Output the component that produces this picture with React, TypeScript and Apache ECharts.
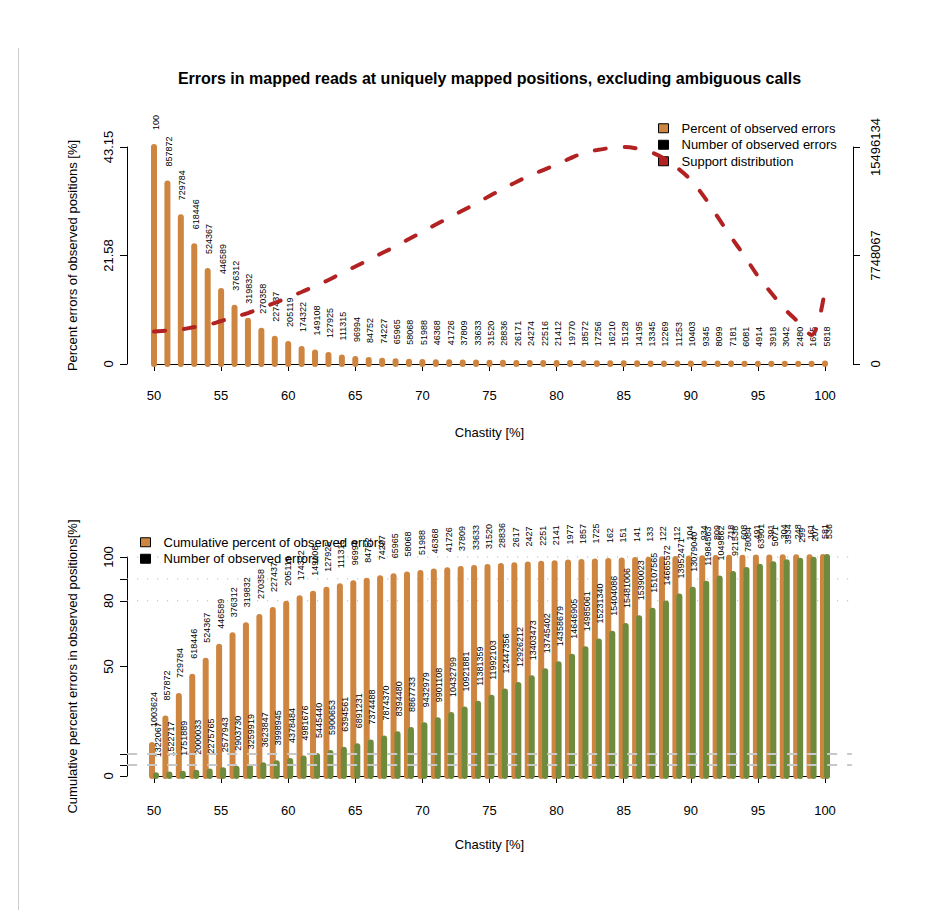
import React, { useEffect, useRef } from "react";
import * as echarts from "echarts";

// ---------- data ----------
const chastity = [
  50, 51, 52, 53, 54, 55, 56, 57, 58, 59, 60, 61, 62, 63, 64, 65, 66, 67, 68, 69, 70,
  71, 72, 73, 74, 75, 76, 77, 78, 79, 80, 81, 82, 83, 84, 85, 86, 87, 88, 89, 90,
  91, 92, 93, 94, 95, 96, 97, 98, 99, 100,
];

// number of observed errors per chastity (labels above bars)
const errorCounts = [
  1003624, 857872, 729784, 618446, 524367, 446589, 376312, 319832, 270358, 227437,
  205119, 174322, 149108, 127925, 111315, 96994, 84752, 74227, 65965, 58068,
  51988, 46368, 41726, 37809, 33633, 31520, 28836, 26171, 24274, 22516,
  21412, 19770, 18572, 17256, 16210, 15128, 14195, 13345, 12269, 11253,
  10403, 9345, 8099, 7181, 6081, 4914, 3918, 3042, 2480, 1615, 5818,
];

// percent errors of observed positions (bar heights, top panel)
const percentErrors = [
  43.15, 35.9, 29.2, 23.4, 18.5, 14.5, 11.2, 8.6, 6.6, 5.0,
  4.0, 3.0, 2.3, 1.8, 1.3, 1.0, 0.8, 0.65, 0.55, 0.45,
  0.4, 0.36, 0.33, 0.3, 0.28, 0.26, 0.24, 0.22, 0.21, 0.2,
  0.19, 0.18, 0.17, 0.16, 0.15, 0.14, 0.13, 0.12, 0.12, 0.11,
  0.1, 0.1, 0.09, 0.08, 0.07, 0.06, 0.05, 0.05, 0.04, 0.03, 0.1,
];

// number of observed positions (support) per chastity
const supportCounts = [
  1322067, 1522717, 1751889, 2000033, 2275765, 2577943, 2903730, 3259919, 3623847, 3998945,
  4378484, 4981676, 5445440, 5900653, 6394561, 6891231, 7374488, 7874370, 8394480, 8867733,
  9432979, 9901108, 10432799, 10921881, 11381359, 11992103, 12447356, 12926212, 13403473, 13745402,
  14358679, 14646905, 14985061, 15231340, 15404086, 15481006, 15390023, 15107565, 14665572, 13952471,
  13079040, 11984563, 10498620, 9215383, 7808450, 6390120, 5071842, 3934716, 2998105, 2073590, 5362417,
];

// smoothed support distribution curve (top panel, right axis)
const supportCurve = [
  2320000, 2390000, 2460000, 2640000, 2790000, 3070000, 3360000, 3640000, 4000000, 4360000,
  4750000, 5140000, 5570000, 6000000, 6500000, 6960000, 7430000, 7930000, 8390000, 8930000,
  9430000, 9960000, 10460000, 10960000, 11460000, 12000000, 12500000, 13000000, 13460000, 13850000,
  14250000, 14680000, 15070000, 15280000, 15420000, 15496134, 15390000, 15140000, 14680000, 14000000,
  13140000, 11930000, 10500000, 9070000, 7710000, 6280000, 5070000, 3930000, 3000000, 2070000, 5360000,
];

const topLeftTickValues = [0, 21.575, 43.15];
const topLeftTickLabels = ["0", "21.58", "43.15"];
const topRightTickLabels = ["0", "7748067", "15496134"];
const bottomTickValues = [0, 5, 10, 50, 80, 90, 100];
const bottomLabelValues = [0, 50, 80, 100];
const dottedLevels = [80, 90, 100];
const dashedLevels = [5, 10];

// ---------- style ----------
const FONT = "'Liberation Sans', Arial, Helvetica, sans-serif";
const ORANGE = "#CD853F";
const GREEN = "#6E8B3D";
const RED = "#B22222";

function cumulativePercent(arr: number[]) {
  const total = arr.reduce((a, b) => a + b, 0);
  let run = 0;
  return arr.map((v) => {
    run += v;
    return (run / total) * 100;
  });
}
const cumErrPct = cumulativePercent(errorCounts);
const cumSupPct = cumulativePercent(supportCounts);

function barGroup(
  api: any,
  x: number,
  v: number,
  dx: number,
  color: string,
  label: string,
  labelGap: number,
  clipAbove: number,
  clipValue: number
) {
  const p0 = api.coord([x, 0]);
  const p1 = api.coord([x, v]);
  const top = api.coord([x, clipValue]);
  const clipY = top[1] - clipAbove;
  const px = p0[0] + dx;
  const bottom = p1[1] - labelGap;
  const avail = bottom - clipY;
  const children: any[] = [
    {
      type: "line",
      shape: { x1: px, y1: p0[1], x2: px, y2: p1[1] },
      style: { stroke: color, lineWidth: 6, lineCap: "round" },
    },
  ];
  if (avail > 4) {
    children.push({
      type: "text",
      x: px + 1.5,
      y: bottom,
      rotation: Math.PI / 2,
      style: {
        text: label,
        font: `9px ${FONT}`,
        fill: "#000",
        align: "left",
        verticalAlign: "middle",
        textAlign: "left",
        textVerticalAlign: "middle",
        width: avail,
        overflow: "truncate",
        ellipsis: "",
      },
    });
  }
  return { type: "group", children };
}

function hLine(api: any, v: number, color: string, width: number, dash: number[]) {
  const a = api.coord([48, v]);
  const b = api.coord([102, v]);
  return {
    type: "line",
    shape: { x1: a[0], y1: a[1], x2: b[0], y2: b[1] },
    style: { stroke: color, lineWidth: width, lineDash: dash },
  };
}

const axisCommon = {
  axisLine: { show: true, lineStyle: { color: "#000", width: 1 } },
  axisTick: { show: true, length: 7, lineStyle: { color: "#000", width: 1 } },
  splitLine: { show: false },
  nameTextStyle: { color: "#000", fontSize: 13, fontFamily: FONT },
};

const legendText = { fontSize: 13, color: "#000", fontFamily: FONT, lineHeight: 16.5, padding: [0, 0, 0, 8] };

export default function App() {
  const ref = useRef<HTMLDivElement>(null);
  useEffect(() => {
    if (!ref.current) return;
    const chart = echarts.init(ref.current, undefined, { renderer: "svg" });
    const option: any = {
      animation: false,
      backgroundColor: "#fff",
      textStyle: { fontFamily: FONT },
      title: {
        text: "Errors in mapped reads at uniquely mapped positions, excluding ambiguous calls",
        left: 489.5,
        textAlign: "center",
        top: 70,
        padding: 0,
        textStyle: { fontSize: 16, fontWeight: "bold", color: "#000", fontFamily: FONT },
      },
      graphic: [
        {
          type: "line",
          silent: true,
          shape: { x1: 18.5, y1: 48, x2: 18.5, y2: 910 },
          style: { stroke: "#cfcfcf", lineWidth: 1 },
        },
      ],
      legend: [
        {
          orient: "vertical",
          left: 658,
          top: 120,
          padding: 0,
          itemWidth: 10,
          itemHeight: 9,
          itemGap: 0,
          selectedMode: false,
          textStyle: legendText,
          data: [
            { name: "Percent of observed errors", icon: "rect", itemStyle: { color: ORANGE, borderColor: "#000", borderWidth: 1 } },
            { name: "Number of observed errors", icon: "rect", itemStyle: { color: "#000", borderColor: "#000", borderWidth: 1 } },
            { name: "Support distribution", icon: "rect", itemStyle: { color: RED, borderColor: "#000", borderWidth: 1 }, lineStyle: { width: 0 } },
          ],
        },
        {
          orient: "vertical",
          left: 140,
          top: 534,
          padding: 0,
          itemWidth: 10,
          itemHeight: 9,
          itemGap: 0,
          selectedMode: false,
          textStyle: legendText,
          data: [
            { name: "Cumulative percent of observed errors", icon: "rect", itemStyle: { color: ORANGE, borderColor: "#000", borderWidth: 1 } },
            { name: "Number of observed errors", icon: "rect", itemStyle: { color: "#000", borderColor: "#000", borderWidth: 1 } },
          ],
        },
      ],
      grid: [
        { left: 154, top: 147, width: 671, height: 217, containLabel: false, outerBoundsMode: "none" },
        { left: 154, top: 557, width: 671, height: 219, containLabel: false, outerBoundsMode: "none" },
      ],
      xAxis: [
        {
          ...axisCommon,
          gridIndex: 0,
          type: "value",
          min: 50,
          max: 100,
          interval: 5,
          offset: 10,
          axisLabel: { margin: 15, fontSize: 13, color: "#000", fontFamily: FONT },
          name: "Chastity [%]",
          nameLocation: "middle",
          nameGap: 52,
        },
        {
          ...axisCommon,
          gridIndex: 1,
          type: "value",
          min: 50,
          max: 100,
          interval: 5,
          offset: 10,
          axisLabel: { margin: 18, fontSize: 13, color: "#000", fontFamily: FONT },
          name: "Chastity [%]",
          nameLocation: "middle",
          nameGap: 52,
        },
      ],
      yAxis: [
        {
          ...axisCommon,
          gridIndex: 0,
          type: "value",
          position: "left",
          min: 0,
          max: 43.15,
          interval: 21.575,
          offset: 27,
          axisLabel: {
            rotate: 90,
            margin: 12,
            fontSize: 13,
            color: "#000",
            fontFamily: FONT,
            formatter: (v: number) => {
              let best = 0;
              topLeftTickValues.forEach((t, i) => {
                if (Math.abs(t - v) < Math.abs(topLeftTickValues[best] - v)) best = i;
              });
              return topLeftTickLabels[best];
            },
          },
          name: "Percent errors of observed positions [%]",
          nameLocation: "middle",
          nameGap: 48,
        },
        {
          ...axisCommon,
          gridIndex: 0,
          type: "value",
          position: "right",
          min: 0,
          max: 15496134,
          interval: 7748067,
          offset: 28,
          axisLabel: {
            rotate: 90,
            margin: 16,
            fontSize: 13,
            color: "#000",
            fontFamily: FONT,
            formatter: (v: number) => {
              const idx = Math.round(v / 7748067);
              return topRightTickLabels[idx] ?? String(v);
            },
          },
        },
        {
          ...axisCommon,
          gridIndex: 1,
          type: "value",
          position: "left",
          min: 0,
          max: 100,
          offset: 27,
          axisTick: { show: true, length: 7, lineStyle: { color: "#000", width: 1 }, customValues: bottomTickValues },
          axisLabel: {
            rotate: 90,
            margin: 12,
            fontSize: 13,
            color: "#000",
            fontFamily: FONT,
            customValues: bottomLabelValues,
          },
          name: "Cumulative percent errors in observed positions[%]",
          nameLocation: "middle",
          nameGap: 48,
        },
      ],
      series: [
        {
          type: "custom",
          name: "Percent of observed errors",
          xAxisIndex: 0,
          yAxisIndex: 0,
          itemStyle: { color: ORANGE },
          z: 2,
          clip: false,
          data: chastity.map((c, i) => [c, percentErrors[i], i]),
          renderItem: (params: any, api: any) => {
            const i = api.value(2);
            return barGroup(api, api.value(0), api.value(1), 0, ORANGE, String(errorCounts[i]), 17, 35, 43.15);
          },
        },
        {
          type: "line",
          name: "Number of observed errors",
          xAxisIndex: 0,
          yAxisIndex: 0,
          data: [],
          itemStyle: { color: "#000" },
        },
        {
          type: "line",
          name: "Support distribution",
          xAxisIndex: 0,
          yAxisIndex: 1,
          data: chastity.map((c, i) => [c, supportCurve[i]]),
          smooth: 0.35,
          symbol: "none",
          showSymbol: false,
          clip: false,
          z: 5,
          itemStyle: { color: RED },
          lineStyle: { color: RED, width: 4, type: [11, 19], cap: "round" },
        },
        {
          type: "custom",
          name: "dotted",
          xAxisIndex: 1,
          yAxisIndex: 2,
          z: 1,
          clip: false,
          silent: true,
          data: dottedLevels.map((v) => [50, v]),
          renderItem: (params: any, api: any) => hLine(api, api.value(1), "#aaaaaa", 1, [1, 9]),
        },
        {
          type: "custom",
          name: "Cumulative percent of observed errors",
          xAxisIndex: 1,
          yAxisIndex: 2,
          itemStyle: { color: ORANGE },
          z: 2,
          clip: false,
          data: chastity.map((c, i) => [c, cumErrPct[i], i]),
          renderItem: (params: any, api: any) => {
            const i = api.value(2);
            return barGroup(api, api.value(0), api.value(1), -2, ORANGE, String(errorCounts[i]), 18, 35, 100);
          },
        },
        {
          type: "custom",
          name: "Cumulative support",
          xAxisIndex: 1,
          yAxisIndex: 2,
          itemStyle: { color: GREEN },
          z: 3,
          clip: false,
          data: chastity.map((c, i) => [c, cumSupPct[i], i]),
          renderItem: (params: any, api: any) => {
            const i = api.value(2);
            return barGroup(api, api.value(0), api.value(1), 2, GREEN, String(supportCounts[i]), 18, 35, 100);
          },
        },
        {
          type: "custom",
          name: "dashed",
          xAxisIndex: 1,
          yAxisIndex: 2,
          z: 4,
          clip: false,
          silent: true,
          data: dashedLevels.map((v) => [50, v]),
          renderItem: (params: any, api: any) => hLine(api, api.value(1), "#c8c8c8", 2, [10, 10]),
        },
      ],
    };
    chart.setOption(option);
    return () => chart.dispose();
  }, []);
  return (
    <div
      ref={ref}
      style={{ position: "absolute", left: 0, top: 0, width: 925, height: 910, background: "#fff" }}
    />
  );
}
